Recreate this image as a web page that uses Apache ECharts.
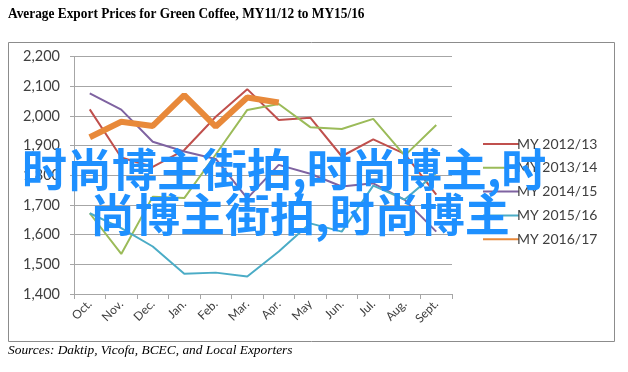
<!DOCTYPE html>
<html>
<head>
<meta charset="utf-8">
<script src="https://cdn.jsdelivr.net/npm/echarts@6/dist/echarts.min.js"></script>
<style>html,body{margin:0;padding:0;background:#fff;}#c{width:628px;height:372px;}</style>
</head>
<body>
<div id="c"></div>
<script>
const categories = ['Oct.','Nov.','Dec.','Jan.','Feb.','Mar.','Apr.','May','Jun.','Jul.','Aug.','Sept.'];
const seriesNames = ['MY 2012/13','MY 2013/14','MY 2014/15','MY 2015/16','MY 2016/17'];
const my1213 = [2022, 1860, 1828, 1885, 1997, 2090, 1986, 1994, 1864, 1921, 1872, 1735];
const my1314 = [1672, 1535, 1728, 1723, 1870, 2020, 2040, 1962, 1956, 1990, 1866, 1969];
const my1415 = [2076, 2021, 1913, 1880, 1855, 1722, 1835, 1805, 1762, 1773, 1717, 1610];
const my1516 = [1672, 1622, 1560, 1468, 1472, 1459, 1543, 1638, 1610, 1765, 1718, 1808];
const my1617 = [1928, 1980, 1966, 2070, 1964, 2062, 2045, null, null, null, null, null];
const yTicks = {min: 1400, max: 2200, step: 100};
const titleText = 'Average Export Prices for Green Coffee, MY11/12 to MY15/16';
const sourceText = 'Sources: Daktip, Vicofa, BCEC, and Local Exporters';
const overlay1 = '时尚博主街拍,时尚博主,时';
const overlay2 = '尚博主街拍,时尚博主';

const colors = ['#C0504D','#9BBB59','#7F63A1','#4BACC6','#E8893A'];
const widths = [2, 2, 2, 2, 6];
const dataSets = [my1213, my1314, my1415, my1516, my1617];

const chart = echarts.init(document.getElementById('c'));
chart.setOption({
  animation: false,
  backgroundColor: '#fff',
  grid: {left: 74, right: 176, top: 56.5, bottom: 78},
  xAxis: {
    type: 'category', data: categories, boundaryGap: true,
    axisLine: {lineStyle: {color: '#A6A6A6', width: 1}},
    axisTick: {show: true, length: 5, lineStyle: {color: '#A6A6A6'}},
    axisLabel: {rotate: 45, margin: 8, color: '#404040', fontFamily: 'Lato', fontSize: 12, interval: 0}
  },
  yAxis: {
    type: 'value', min: yTicks.min, max: yTicks.max, interval: yTicks.step,
    axisLine: {show: true, lineStyle: {color: '#A6A6A6', width: 1}},
    axisTick: {show: true, length: 4, lineStyle: {color: '#A6A6A6'}},
    splitLine: {lineStyle: {color: '#A6A6A6', width: 1}},
    axisLabel: {margin: 14, color: '#404040', fontFamily: 'Lato', fontSize: 14.5,
      formatter: v => v.toLocaleString('en-US')}
  },
  legend: {
    orient: 'vertical', left: 477, top: 132, itemWidth: 36, itemHeight: 14, itemGap: 9.8,
    itemStyle: {opacity: 0},
    textStyle: {fontFamily: 'Lato', fontSize: 14, color: '#404040', padding: [0,0,0,-7]},
    data: seriesNames
  },
  series: dataSets.map((d, i) => ({
    name: seriesNames[i], type: 'line', data: d, symbol: 'none', showSymbol: false,
    color: colors[i], lineStyle: {color: colors[i], width: widths[i]},
    z: i === 4 ? 5 : 2
  })),
  graphic: [
    {type: 'rect', shape: {x: 8.5, y: 42.5, width: 606, height: 299}, style: {fill: 'none', stroke: '#8C8C8C', lineWidth: 1}, z: 0},
    {type: 'text', x: 8, y: 7, scaleX: 0.89, style: {text: titleText, font: 'bold 15px "Liberation Serif"', fill: '#000'}},
    {type: 'text', x: 8, y: 344, style: {text: sourceText, font: 'italic 13.4px "Liberation Serif"', fill: '#000'}},
    {type: 'text', x: 22, y: 147, z: 100, style: {text: overlay1, font: 'bold 45px "Noto Sans CJK SC"', fill: '#1E90FF'}},
    {type: 'text', x: 90, y: 192, z: 100, style: {text: overlay2, font: 'bold 45px "Noto Sans CJK SC"', fill: '#1E90FF'}}
  ]
});
</script>
</body>
</html>
